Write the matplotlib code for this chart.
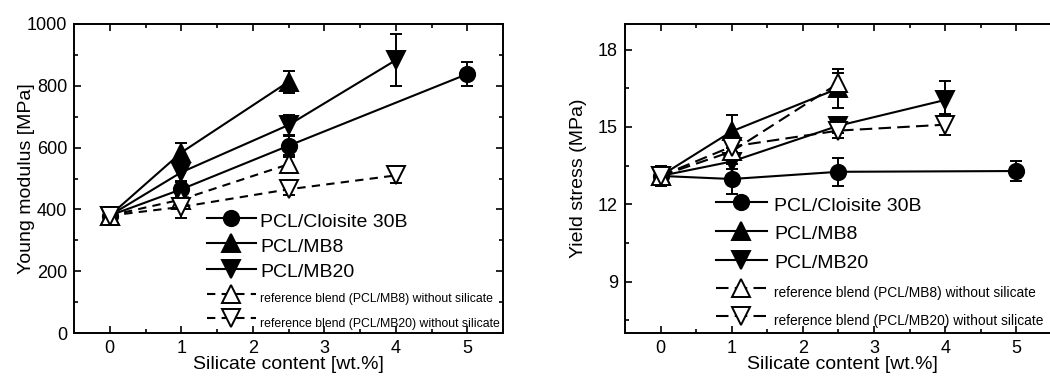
import numpy as np
import matplotlib.pyplot as plt
from matplotlib.lines import Line2D
from matplotlib.ticker import MultipleLocator

plt.rcParams['font.family'] = ['Liberation Sans', 'DejaVu Sans']

# Young modulus [MPa]
x_cl = [0, 1, 2.5, 5]
ym_cl = [380, 465, 606, 838]
ym_cl_err = [15, 25, 30, 38]
x_mb8 = [0, 1, 2.5]
ym_mb8 = [380, 584, 813]
ym_mb8_err = [15, 32, 36]
x_mb20 = [0, 1, 2.5, 4]
ym_mb20 = [380, 520, 673, 883]
ym_mb20_err = [15, 28, 32, 85]
x_ref8 = [0, 1, 2.5]
ym_ref8 = [380, 432, 546]
ym_ref8_err = [15, 20, 25]
x_ref20 = [0, 1, 2.5, 4]
ym_ref20 = [380, 408, 465, 510]
ym_ref20_err = [15, 35, 20, 25]

# Yield stress (MPa)
ys_cl = [13.1, 12.98, 13.26, 13.29]
ys_cl_err = [0.38, 0.6, 0.55, 0.4]
ys_mb8 = [13.1, 14.83, 16.5]
ys_mb8_err = [0.38, 0.65, 0.75]
ys_mb20 = [13.1, 13.66, 15.05, 16.05]
ys_mb20_err = [0.38, 0.3, 0.3, 0.75]
ys_ref8 = [13.1, 14.05, 16.7]
ys_ref8_err = [0.38, 0.3, 0.4]
ys_ref20 = [13.1, 14.24, 14.86, 15.09]
ys_ref20_err = [0.38, 0.2, 0.3, 0.4]

labels = ['PCL/Cloisite 30B', 'PCL/MB8', 'PCL/MB20',
          'reference blend (PCL/MB8) without silicate',
          'reference blend (PCL/MB20) without silicate']

fig = plt.figure(figsize=(10.5, 3.76), dpi=100)
ax1 = fig.add_axes([74 / 1050, 43 / 376, 429 / 1050, 309 / 376])
ax2 = fig.add_axes([625 / 1050, 43 / 376, 434 / 1050, 309 / 376])


def draw(ax, data, dash):
    styles = [('o', 'k', '-', 11), ('^', 'k', '-', 13), ('v', 'k', '-', 13),
              ('^', 'w', dash, 13), ('v', 'w', dash, 13)]
    for (x, y, e), (m, fc, ls, ms) in zip(data, styles):
        ax.errorbar(x, y, yerr=e, color='k', lw=1.5, ls=ls, marker=m, ms=ms,
                    mfc=fc, mec='k', mew=1.4, capsize=4.5, capthick=1.4,
                    elinewidth=1.4)
    handles = [Line2D([], [], color='k', lw=1.5, ls=ls, marker=m, ms=ms,
                      mfc=fc, mec='k', mew=1.4) for (m, fc, ls, ms) in styles]
    return handles


def style(ax, xmax):
    ax.set_xlim(-0.5, xmax)
    ax.xaxis.set_major_locator(MultipleLocator(1))
    ax.xaxis.set_minor_locator(MultipleLocator(0.5))
    ax.tick_params(which='both', direction='in', top=True, right=True,
                   width=1.2, labelsize=13, pad=5)
    ax.tick_params(which='major', length=5)
    ax.tick_params(which='minor', length=3)
    for s in ax.spines.values():
        s.set_linewidth(1.4)
    ax.set_xlabel('Silicate content [wt.%]', fontsize=14, labelpad=-1)


h1 = draw(ax1, [(x_cl, ym_cl, ym_cl_err), (x_mb8, ym_mb8, ym_mb8_err),
                (x_mb20, ym_mb20, ym_mb20_err), (x_ref8, ym_ref8, ym_ref8_err),
                (x_ref20, ym_ref20, ym_ref20_err)], (0, (4, 3)))
style(ax1, 5.5)
ax1.set_ylim(0, 1000)
ax1.yaxis.set_major_locator(MultipleLocator(200))
ax1.yaxis.set_minor_locator(MultipleLocator(100))
ax1.set_ylabel('Young modulus [MPa]', fontsize=14, labelpad=-6)

h2 = draw(ax2, [(x_cl, ys_cl, ys_cl_err), (x_mb8, ys_mb8, ys_mb8_err),
                (x_mb20, ys_mb20, ys_mb20_err), (x_ref8, ys_ref8, ys_ref8_err),
                (x_ref20, ys_ref20, ys_ref20_err)], (0, (6, 3)))
style(ax2, 5.6)
ax2.set_ylim(7, 19)
ax2.yaxis.set_major_locator(MultipleLocator(3))
ax2.yaxis.set_minor_locator(MultipleLocator(1.5))
ax2.set_ylabel('Yield stress (MPa)', fontsize=14, labelpad=8)


def legend(ax, handles, xy, spacing, hlen, tpad, small):
    leg = ax.legend(handles, labels, loc='upper left', bbox_to_anchor=xy,
                    bbox_transform=fig.transFigure, frameon=False,
                    fontsize=14, borderpad=0, handlelength=hlen,
                    handleheight=1.2, handletextpad=tpad,
                    labelspacing=spacing, borderaxespad=0)
    for t in leg.get_texts()[3:]:
        t.set_fontsize(small)
    return leg


legend(ax1, h1, (207 / 1050, 1 - 210 / 376), 0.24, 2.5, 0.25, 8.8)
legend(ax2, h2, (716 / 1050, 1 - 194 / 376), 0.42, 2.6, 0.4, 9.9)

fig.savefig('out.png', dpi=100)
